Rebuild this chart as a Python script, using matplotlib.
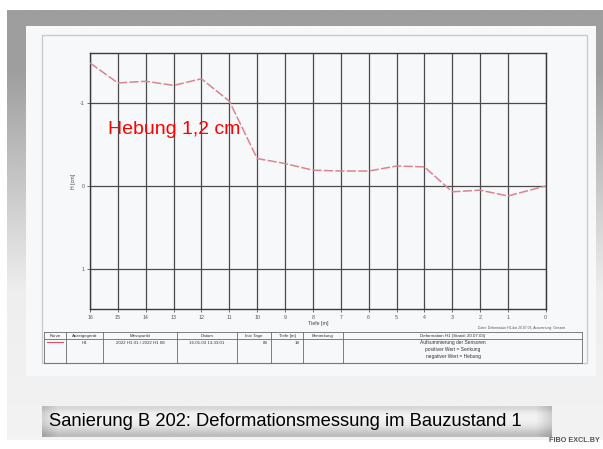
import numpy as np
import matplotlib.pyplot as plt
from matplotlib.patches import Rectangle

plt.rcParams['font.family'] = ['Liberation Sans', 'DejaVu Sans']

# Messpunkte (Tiefe) und gemessene Deformation [cm], negativ = Hebung
tick_labels = ['16', '15', '14', '13', '12', '11', '10', '9', '8',
               '7', '6', '5', '4', '3', '2', '1', '0']
tiefe = [16, 15, 14, 13, 12, 11, 10, 9, 8, 7, 6, 5, 4, 3, 2, 1, -0.35]
deformation = [-1.48, -1.24, -1.26, -1.21, -1.29, -1.02, -0.33, -0.27, -0.19,
               -0.18, -0.18, -0.24, -0.23, 0.07, 0.05, 0.12, 0.0]
y_ticks = [-1, 0, 1]

table_head = ['Kurve', 'Anzeigegerät', 'Messpunkt', 'Datum', 'Intv Tage',
              'Tiefe [m]', 'Bemerkung', 'Deformation H1 (Stand: 20.07.03)']
table_row = ['', 'H1', '2022 H1 01 / 2022 H1 08', '16.01.03 13:33:01', '89', '18', '']
remark_lines = ['Aufsummierung der Sensoren', 'positiver Wert = Senkung',
                'negativer Wert = Hebung']

W, H = 603, 449
fig = plt.figure(figsize=(W / 100, H / 100), dpi=100)
fig.patch.set_facecolor('white')

# background layer in pixel coordinates
bg = fig.add_axes([0, 0, 1, 1])
bg.set_xlim(0, W)
bg.set_ylim(H, 0)
bg.axis('off')

# grey slide frame fading downwards
ys = np.linspace(10, 440, 200)
shade = np.interp(ys, [10, 70, 290, 440], [0.62, 0.62, 0.93, 0.95])
grad = np.tile(shade[:, None], (1, 2))
bg.imshow(grad, extent=(7, W, 440, 10), cmap='gray', vmin=0, vmax=1,
          aspect='auto', zorder=0, interpolation='bilinear')

# scanned sheet
bg.add_patch(Rectangle((26, 26), 570, 350, facecolor='#f7f8fa', edgecolor='none', zorder=1))
bg.add_patch(Rectangle((42, 35), 545, 328, facecolor='none', edgecolor='#c9cbcc', lw=1.0, zorder=2))

# table below the plot
tc = '#6a6a6a'
x0, x1 = 44, 582
for yy in [331.7, 339, 362.7]:
    bg.plot([x0, x1], [yy, yy], color=tc, lw=0.6, zorder=3)
cols = [44, 66, 103.3, 176.7, 237.3, 271, 303.3, 343.3, 582]
for xx in cols:
    bg.plot([xx, xx], [331.7, 362.7], color=tc, lw=0.6, zorder=3)
fs = 3.2
head_x = [55, 84.7, 140, 207, 254, 287, 323, 453]
for hx, t in zip(head_x, table_head):
    bg.text(hx, 335.6, t, fontsize=fs, ha='center', va='center', color='#333333', zorder=4)
bg.plot([47, 63], [342.3, 342.3], color='#e05060', lw=0.8, zorder=4)
row_x = [55, 84.7, 140, 207, 268, 300, 323]
for i, (rx, t) in enumerate(zip(row_x, table_row)):
    ha = 'right' if i in (4, 5) else 'center'
    bg.text(rx, 342.6, t, fontsize=fs, ha=ha, va='center', color='#333333', zorder=4)
for k, t in enumerate(remark_lines):
    bg.text(453, 342.8 + 7 * k, t, fontsize=fs + 0.3, ha='center', va='center',
            color='#333333', zorder=4)
bg.text(565, 328, 'Datei: Deformation H1.dat 20.07.03, Auswertung: Gesamt',
        fontsize=2.4, ha='right', va='center', color='#555555', zorder=4)

# caption bar with metallic gradient
cy = np.array([0.84, 0.93, 0.95, 0.94, 0.90, 0.82, 0.74])
cx = np.linspace(0, 1, 300)
edge = 1 - 0.14 * np.clip(1 - np.minimum(cx, 1 - cx) / 0.03, 0, 1)
cap = cy[:, None] * edge[None, :]
bg.imshow(cap, extent=(42, 552, 437, 406), cmap='gray', vmin=0, vmax=1,
          aspect='auto', zorder=5, interpolation='bilinear')
bg.text(49, 421.5, 'Sanierung B 202: Deformationsmessung im Bauzustand 1',
        fontsize=13.2, ha='left', va='center', color='black', zorder=6)
bg.text(600, 440, 'FIBO EXCL.BY', fontsize=5.2, fontweight='bold',
        ha='right', va='center', color='#555555', zorder=6)

# measurement plot
ax = fig.add_axes([90 / W, 1 - 309 / H, (545.6 - 90) / W, (309 - 53) / H])
ax.set_facecolor('none')
ax.set_xlim(16, -0.35)
ax.set_ylim(1.48, -1.60)
ax.set_xticks(tiefe)
ax.set_xticklabels(tick_labels)
ax.set_yticks(y_ticks)
ax.set_yticklabels([str(v) for v in y_ticks])
ax.grid(True, color='#4a4a4a', lw=0.9)
for s in ax.spines.values():
    s.set_color('#3a3a3a')
    s.set_linewidth(1.0)
ax.tick_params(colors='#555555', labelsize=3.8, length=2, width=0.6, pad=2)
ax.set_xlabel('Tiefe [m]', fontsize=3.8, color='#444444', labelpad=1)
ax.set_ylabel('H [cm]', fontsize=3.8, color='#444444', labelpad=3)
ax.plot(tiefe, deformation, color='#d98590', lw=1.1, linestyle=(0, (6, 1.5)), zorder=3)

fig.text(108 / W, 1 - 130 / H, 'Hebung 1,2 cm', fontsize=14, color='red',
         ha='left', va='center')
fig.savefig('out.png', dpi=100)
